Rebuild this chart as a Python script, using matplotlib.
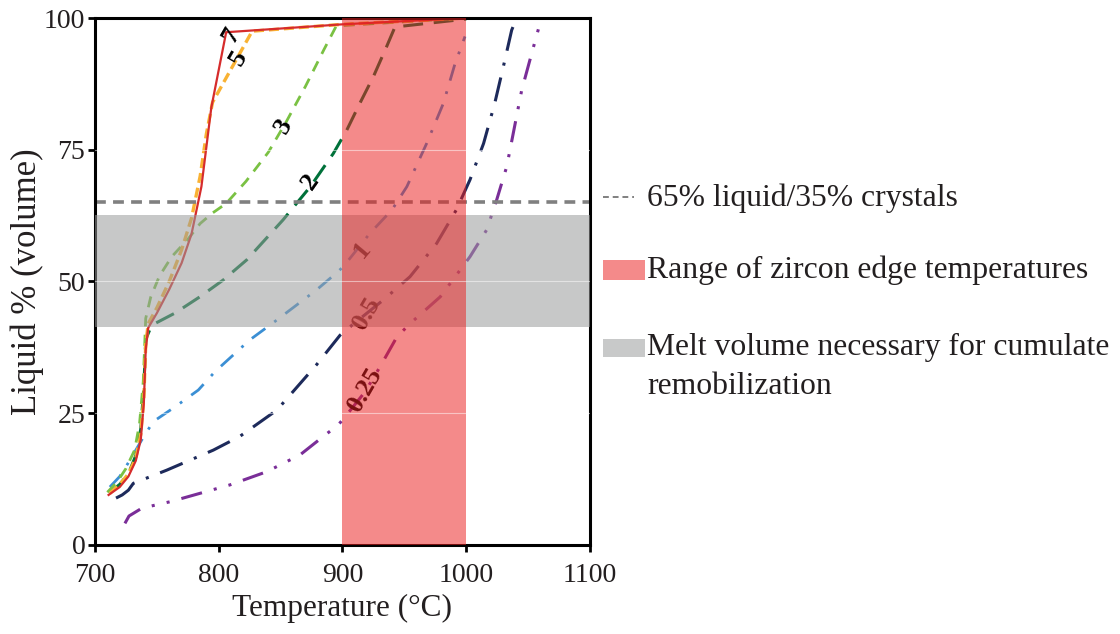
import matplotlib
matplotlib.use("Agg")
import matplotlib.pyplot as plt
from matplotlib.lines import Line2D
from matplotlib.patches import Rectangle

plt.rcParams['font.family'] = ['Liberation Serif', 'DejaVu Serif']

# --- data: temperature (C) vs liquid % (volume) ---
t7 = [711, 720, 727, 733, 737, 739.5, 741, 743, 750, 760, 770, 778, 786, 794, 806, 900, 1000]
l7 = [9.5, 11, 13, 16, 20, 27, 37, 41.2, 44, 48.5, 53.5, 59, 68, 83, 97.3, 98.8, 100]

t5 = [712, 720, 727, 733, 737, 739.5, 741, 743, 750, 760, 770, 778, 785, 790, 795, 827, 900, 1000]
l5 = [9.8, 11.5, 13.5, 16.5, 21, 28, 38, 42, 45, 50, 56, 62, 70, 78, 84, 97.5, 98.8, 100]

t3 = [710, 718, 725, 732, 736, 739, 741, 745, 752, 762, 775, 785, 795, 806, 822, 840, 855, 870, 885, 895, 1000]
l3 = [10, 12, 14.5, 18, 23, 31, 43, 47, 51, 54.7, 58, 61, 63, 64.8, 69, 74.5, 80.5, 87, 94, 98.5, 100]

t2 = [712, 720, 727, 733, 737, 739.5, 741, 745.8, 764.6, 784.8, 803.7, 822.6, 852, 874, 892.6,
      903.4, 914, 925, 935.7, 942.4, 1000]
l2 = [10, 11.5, 13.5, 17, 22, 30, 39, 41.7, 44, 47.1, 50.3, 54.1, 61.7, 68, 74.3,
      78.7, 83.8, 88.9, 94.6, 98.3, 99.8]

t1 = [712, 720, 728, 737.7, 747, 764.6, 783.5, 797, 825, 847, 879, 895, 900.6, 922, 940,
      952, 968, 981.5, 991, 999]
l1 = [11, 13, 16, 19.9, 23.4, 26.2, 29.4, 32.9, 38.9, 42.7, 48.4, 51.6, 52.8, 59.1, 63.6,
      68, 76.2, 83.8, 91.4, 96.5]

t05 = [717, 722, 727, 731, 758, 795.6, 817, 847, 879, 898, 906, 933, 954.5, 976, 992,
       1003, 1014, 1023, 1030, 1036.7, 1040.7]
l05 = [8.9, 9.5, 10.4, 11.7, 14.2, 18, 20.6, 25.6, 34.2, 39.8, 41.4, 46.5, 50.9, 57.2, 63.6,
       69.3, 76.2, 83.8, 90.8, 97.7, 100]

t025 = [724.2, 727.5, 738, 760.6, 784.8, 809, 838.7, 865.7, 884.5, 896.6, 902, 918, 930.3, 944,
        955, 979, 1003, 1016.5, 1024.6, 1032.7, 1044.8, 1052.9, 1059.6, 1062]
l025 = [4.1, 5.5, 7, 8.2, 9.8, 11.4, 13.9, 17.1, 20.6, 22.8, 24.3, 29, 33.8, 39.5,
        42.1, 47.1, 54.7, 59.8, 65.5, 71.8, 86.3, 93.3, 99, 100]

# curve labels (label text, x, y, rotation)
curve_labels = ['7', '5', '3', '2', '1', '0.5', '0.25']
label_x = [810, 816, 852, 874, 915.5, 919.5, 918]
label_y = [96.8, 92.5, 79.5, 69, 56, 44, 29.5]
label_rot = [60, 60, 60, 55, 50, 60, 60]

crystal_line = 65            # 65 % liquid / 35 % crystals
zircon_range = (900, 1000)   # range of zircon edge temperatures
melt_band = (41.4, 62.6)     # melt volume needed for remobilization

xticks = [700, 800, 900, 1000, 1100]
yticks = [0, 25, 50, 75, 100]

fig = plt.figure(figsize=(11.2, 6.34), dpi=100)
ax = fig.add_axes([0.0848, 0.1404, 0.442, 0.8312])

# curves
ax.plot(t025, l025, color='#7a2e98', lw=2.2, dashes=(7, 4, 1, 4, 1, 4))
ax.plot(t05, l05, color='#1d2a5b', lw=2.2, dashes=(8, 4, 1, 4))
ax.plot(t1, l1, color='#3b8fd4', lw=2.0, dashes=(6, 4, 1, 4))
ax.plot(t2, l2, color='#00713a', lw=2.2, dashes=(6.5, 3.5))
ax.plot(t3, l3, color='#7ac143', lw=2.0, dashes=(4, 3))
ax.plot(t5, l5, color='#f9b233', lw=2.4, dashes=(3, 1.5))
ax.plot(t7, l7, color='#d62c2c', lw=1.6)

ax.axhline(crystal_line, color='#808080', lw=2.6, dashes=(3, 2))

for txt, x, y, r in zip(curve_labels, label_x, label_y, label_rot):
    ax.text(x, y, txt, rotation=r, ha='center', va='center',
            fontsize=19, fontweight='bold', color='black')

# shaded bands on top of the curves
ax.axhspan(*melt_band, color='#9a9b9b', alpha=0.55, lw=0, zorder=3)
ax.axvspan(*zircon_range, color='#eb2020', alpha=0.52, lw=0, zorder=4)

# faint white grid lines that show through the bands
for g in [25, 50, 75]:
    ax.axhline(g, color='white', lw=0.8, alpha=0.5, zorder=5)

ax.set_xlim(700, 1100)
ax.set_ylim(0, 100)
ax.set_xticks(xticks)
ax.set_yticks(yticks)
ax.tick_params(direction='out', length=5, width=2, labelsize=20, colors='black',
               labelcolor='#231f20')
ax.tick_params(axis='x', pad=8)
ax.tick_params(axis='y', pad=2)
for s in ax.spines.values():
    s.set_linewidth(2.2)

ax.set_xlabel('Temperature (°C)', fontsize=22.5, color='#231f20', labelpad=4)
ax.set_ylabel('Liquid % (volume)', fontsize=25, color='#231f20', labelpad=0)

# legend built by hand to the right of the axes
tc = '#231f20'
fig.add_artist(Line2D([0.538, 0.566], [0.689, 0.689], transform=fig.transFigure,
                      color='#808080', lw=1.4, dashes=(3, 2)))
fig.text(0.578, 0.687, '65% liquid/35% crystals', fontsize=22.8, color=tc, va='center')

fig.add_artist(Rectangle((0.538, 0.558), 0.038, 0.032, transform=fig.transFigure,
                         color='#f48a8a', lw=0))
fig.text(0.578, 0.573, 'Range of zircon edge temperatures', fontsize=22.8, color=tc, va='center')

fig.add_artist(Rectangle((0.538, 0.437), 0.038, 0.028, transform=fig.transFigure,
                         color='#c8c9c9', lw=0))
fig.text(0.578, 0.452, 'Melt volume necessary for cumulate', fontsize=22.8, color=tc, va='center')
fig.text(0.578, 0.390, 'remobilization', fontsize=22.8, color=tc, va='center')

fig.savefig('out.png', dpi=100)
